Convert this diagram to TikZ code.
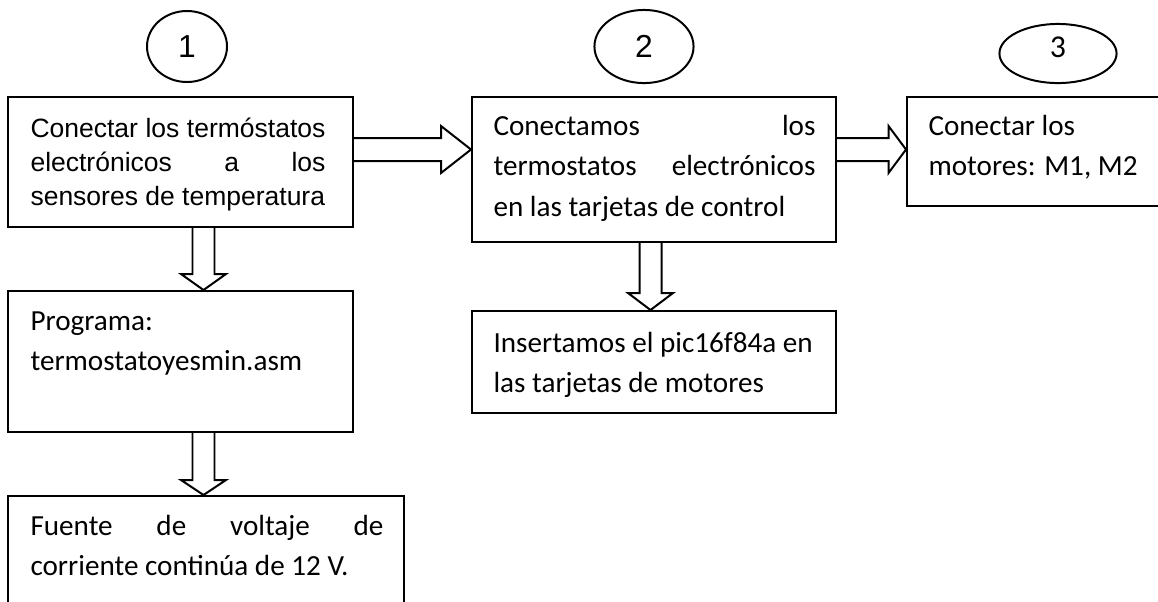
\documentclass[tikz,border=0pt]{standalone}
\usepackage{fontspec}
\usetikzlibrary{shapes.geometric,calc,fit}
\newfontfamily\arialf{Liberation Sans}
\newfontfamily\calibf{Carlito}
\hyphenpenalty=10000

\newcommand\fullline[1]{\makebox[\linewidth][s]{#1}}

\tikzset{
  box/.style={draw, line width=0.75pt, inner sep=0pt},
  oval/.style={draw, ellipse, line width=0.75pt, inner sep=0pt},
  txta/.style={anchor=base west, inner sep=0pt, align=flush left, font=\arialf\fontsize{10}{12.85}\selectfont},
  txtc/.style={anchor=base west, inner sep=0pt, align=flush left, font=\calibf\fontsize{11}{15.4}\selectfont},
  hfat/.style={line width=0.75pt, to path={($(\tikztostart)+(0,-11.5)$) -- ($(\tikztotarget)+(-#1,-11.5)$) -- ($(\tikztotarget)+(-#1,-23.5)$) -- (\tikztotarget) -- ($(\tikztotarget)+(-#1,23.5)$) -- ($(\tikztotarget)+(-#1,11.5)$) -- ($(\tikztostart)+(0,11.5)$)}},
  vfat/.style={line width=0.75pt, to path={($(\tikztostart)+(-11,0)$) -- ($(\tikztotarget)+(-11,-#1)$) -- ($(\tikztotarget)+(-22.5,-#1)$) -- (\tikztotarget) -- ($(\tikztotarget)+(22.5,-#1)$) -- ($(\tikztotarget)+(11,-#1)$) -- ($(\tikztostart)+(11,0)$)}}
}

\begin{document}
\begin{tikzpicture}[x=0.3774pt,y=-0.3774pt]

\useasboundingbox (0,0) rectangle (1158,601) ;

% numbered ovals
\node[oval, minimum width=30.2pt, minimum height=26.8pt, font=\arialf\fontsize{12}{14}\selectfont] (e1) at (187,46.5) {1} ;
\node[oval, minimum width=37.4pt, minimum height=27.6pt, font=\arialf\fontsize{12}{14}\selectfont] (e2) at (644,46.5) {2} ;
\node[oval, minimum width=44.2pt, minimum height=22.3pt] (e3) at (1058,53.5) {} ;
\node[inner sep=0pt, font=\calibf\fontsize{12}{14}\selectfont] (n3) at (1058,47) {3} ;

% boxes
\node[box, fit={(8,97) (353,227)}] (b1) {} ;
\node[box, fit={(472,97) (836,242)}] (b2) {} ;
\node[box, fit={(907,97) (1175,206)}] (b3) {} ;
\node[box, fit={(8,291) (353,432)}] (b4) {} ;
\node[box, fit={(8,496) (404,620)}] (b5) {} ;
\node[box, fit={(472,311) (836,413)}] (b6) {} ;

% texts
\node[txta, text width=111.3pt] (t1) at (30,137) {\fullline{Conectar los termóstatos}\\\fullline{electrónicos a los}\\sensores de temperatura} ;
\node[txtc, text width=121.5pt] (t2) at (493,135) {\fullline{Conectamos los}\\\fullline{termostatos electrónicos}\\en las tarjetas de control} ;
\node[txtc, text width=90pt] (t3) at (928,135) {Conectar los\\motores: M1, M2} ;
\node[txtc, text width=120pt] (t4) at (30,330) {Programa:\\termostatoyesmin.asm} ;
\node[txtc, text width=133.2pt] (t5) at (30,535) {\fullline{Fuente de voltaje de}\\corriente continúa de 12 V.} ;
\node[txtc, text width=130pt] (t6) at (493,352) {Insertamos el pic16f84a en\\las tarjetas de motores} ;

% block arrows
\coordinate (r1) at (0,149.5) ;
\coordinate (c1) at (203.5,0) ;
\coordinate (c2) at (650.5,0) ;

\draw[hfat=30] (b1.east |- r1) to (b2.west |- r1) ;
\draw[hfat=17.5] (b2.east |- r1) to (b3.west |- r1) ;
\draw[vfat=16] (b1.south -| c1) to (b4.north -| c1) ;
\draw[vfat=15] (b4.south -| c1) to (b5.north -| c1) ;
\draw[vfat=17] (b2.south -| c2) to (b6.north -| c2) ;

\end{tikzpicture}
\end{document}
